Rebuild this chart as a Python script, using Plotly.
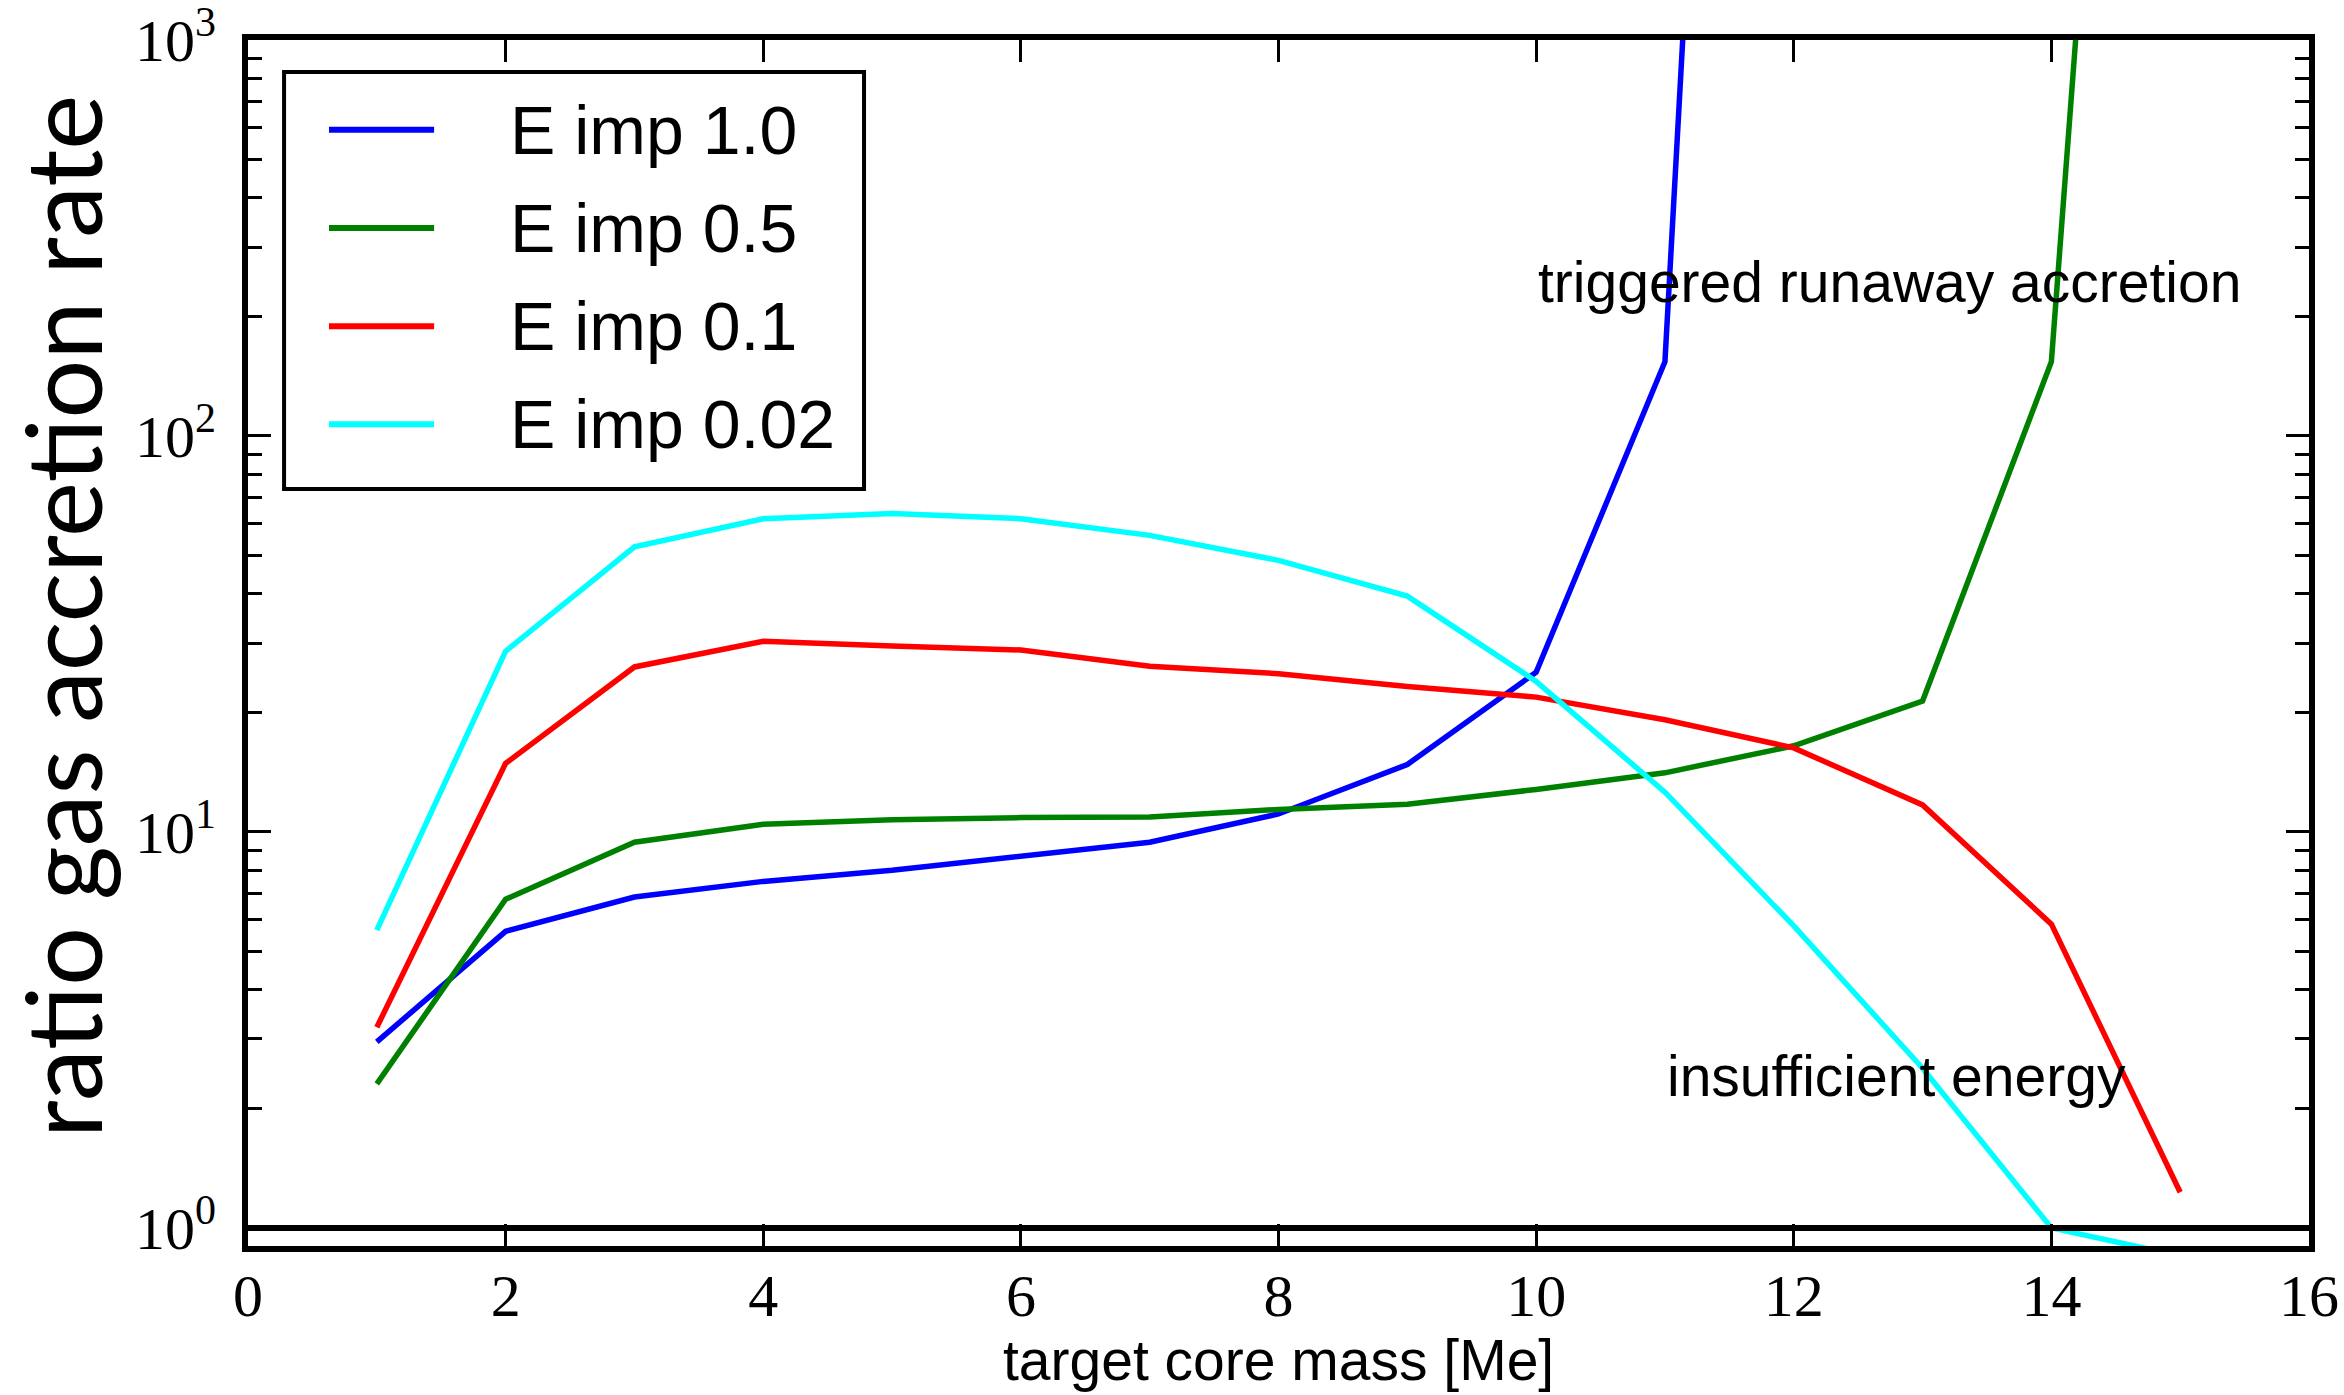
import math
import plotly.graph_objects as go

# ---------------- data ----------------
x_blue = [1, 2, 3, 4, 5, 6, 7, 8, 9, 10, 11, 12]
y_blue = [2.95, 5.61, 6.85, 7.50, 8.0, 8.67, 9.42, 11.1, 14.8, 25.3, 154, 1.2e8]

x_green = [1, 2, 3, 4, 5, 6, 7, 8, 9, 10, 11, 12, 13, 14, 15]
y_green = [2.31, 6.76, 9.42, 10.45, 10.73, 10.87, 10.9, 11.4, 11.75, 12.8, 14.1, 16.5, 21.4, 154, 3.2e6]

x_red = [1, 2, 3, 4, 5, 6, 7, 8, 9, 10, 11, 12, 13, 14, 15]
y_red = [3.21, 14.9, 26.1, 30.3, 29.5, 28.8, 26.2, 25.1, 23.3, 21.9, 19.2, 16.3, 11.7, 5.85, 1.23]

x_cyan = [1, 2, 3, 4, 5, 6, 7, 8, 9, 10, 11, 12, 13, 14, 15]
y_cyan = [5.65, 28.6, 52.5, 61.8, 63.7, 61.8, 56.1, 48.5, 39.4, 24.0, 12.6, 5.79, 2.53, 1.0, 0.85]

series_names = ["E imp 1.0", "E imp 0.5", "E imp 0.1", "E imp 0.02"]
series_colors = ["#0000ff", "#008000", "#ff0000", "#00ffff"]

x_ticks = [0, 2, 4, 6, 8, 10, 12, 14, 16]
y_ticks = [1, 10, 100, 1000]
y_ticktext = ["10<sup>0</sup>", "10<sup>1</sup>", "10<sup>2</sup>", "10<sup>3</sup>"]

threshold = 1.0
label_runaway = "triggered runaway accretion"
label_runaway_pos = (10.0, 245)
label_insuff = "insufficient energy"
label_insuff_pos = (11.0, 2.42)

x_title = "target core mass [Me]"
y_title = "ratio gas accretion rate"

# ---------------- figure ----------------
fig = go.Figure()
all_x = [x_blue, x_green, x_red, x_cyan]
all_y = [y_blue, y_green, y_red, y_cyan]
for i, (xs, ys) in enumerate(zip(all_x, all_y)):
    fig.add_trace(go.Scatter(
        x=xs, y=ys, mode="lines", name=series_names[i],
        line=dict(color=series_colors[i], width=5.5),
        showlegend=False,
    ))

minor_vals = [k * 10 ** n for n in range(0, 3) for k in range(2, 10)]

TICKFONT = dict(family="Liberation Serif", size=60, color="black")

fig.update_xaxes(
    range=[0, 16], tickmode="array", tickvals=x_ticks,
    ticks="inside", ticklen=22, tickwidth=2.5, tickcolor="black",
    showline=True, linewidth=6, linecolor="black", mirror="ticks",
    showgrid=False, zeroline=False, tickfont=TICKFONT,
    ticklabelstandoff=-8, ticklabeloverflow="allow", automargin=False,
)
fig.update_yaxes(
    type="log", range=[math.log10(0.9), 3], tickmode="array",
    tickvals=y_ticks, ticktext=y_ticktext,
    ticks="inside", ticklen=23, tickwidth=2.5, tickcolor="black",
    minor=dict(tickvals=minor_vals, ticks="inside", ticklen=14, tickwidth=2.5,
               tickcolor="black", showgrid=False),
    showline=True, linewidth=6, linecolor="black", mirror="ticks",
    showgrid=False, zeroline=False, tickfont=TICKFONT,
    ticklabelstandoff=14, ticklabeloverflow="allow", automargin=False,
)

fig.add_shape(type="line", xref="x", yref="y", x0=0, x1=16, y0=threshold, y1=threshold,
              line=dict(color="black", width=6), layer="above")

ANNFONT = dict(family="Liberation Sans", size=57, color="black")
fig.add_annotation(x=label_runaway_pos[0], y=math.log10(label_runaway_pos[1]),
                   xref="x", yref="y", text=label_runaway, showarrow=False,
                   xanchor="left", yanchor="middle", font=ANNFONT)
fig.add_annotation(x=label_insuff_pos[0], y=math.log10(label_insuff_pos[1]),
                   xref="x", yref="y", text=label_insuff, showarrow=False,
                   xanchor="left", yanchor="middle", font=ANNFONT)

# axis titles
fig.add_annotation(x=0.5, y=-0.0945, xref="paper", yref="paper", text=x_title,
                   showarrow=False, xanchor="center", yanchor="middle", font=ANNFONT)
fig.add_annotation(x=-0.0905, y=0.522, xref="paper", yref="paper", text=y_title,
                   showarrow=False, xanchor="center", yanchor="middle", textangle=-90,
                   font=dict(family="Lato", size=104, color="black"))

# ---------------- legend (drawn in paper coordinates) ----------------
LEG_BOX = (0.0175, 0.6277, 0.2989, 0.9735)   # x0, y0, x1, y1
LEG_LINE_X = (0.0393, 0.0903)
LEG_TEXT_X = 0.1262
LEG_ROWS = [0.9255, 0.8441, 0.7627, 0.6813]
fig.add_shape(type="rect", xref="paper", yref="paper",
              x0=LEG_BOX[0], y0=LEG_BOX[1], x1=LEG_BOX[2], y1=LEG_BOX[3],
              line=dict(color="black", width=4), fillcolor="white", layer="above")
for name, color, ry in zip(series_names, series_colors, LEG_ROWS):
    fig.add_shape(type="line", xref="paper", yref="paper",
                  x0=LEG_LINE_X[0], x1=LEG_LINE_X[1], y0=ry, y1=ry,
                  line=dict(color=color, width=6), layer="above")
    fig.add_annotation(x=LEG_TEXT_X, y=ry, xref="paper", yref="paper", text=name,
                       showarrow=False, xanchor="left", yanchor="middle",
                       font=dict(family="Liberation Sans", size=68, color="black"))

fig.update_layout(
    width=2344, height=1395,
    margin=dict(l=248, r=35, t=40, b=149, autoexpand=False),
    paper_bgcolor="white", plot_bgcolor="white",
    showlegend=False,
)

fig.write_html("out.html")
